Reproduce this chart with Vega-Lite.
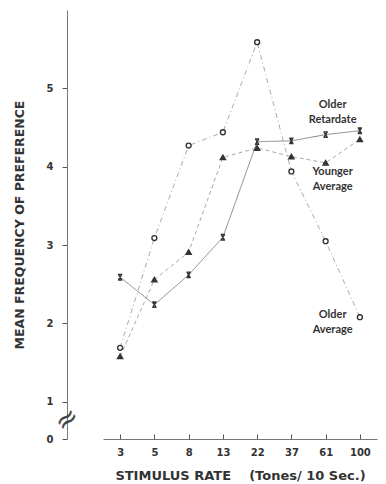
{
  "$schema": "https://vega.github.io/schema/vega-lite/v6.json",
  "width": 319,
  "height": 429,
  "autosize": "none",
  "padding": {"left": 67, "top": 10, "right": 0, "bottom": 45},
  "background": "white",
  "config": {
    "view": {"stroke": null},
    "font": "Lato",
    "axis": {"grid": false, "domainColor": "#777", "tickColor": "#555", "labelColor": "#333", "titleColor": "#333", "labelFont": "DejaVu Sans", "titleFont": "DejaVu Sans", "labelFontWeight": "bold", "titleFontWeight": "bold"}
  },
  "datasets": {
    "main": [
      {"rate": 3, "series": "Older Average", "value": 1.69},
      {"rate": 5, "series": "Older Average", "value": 3.09},
      {"rate": 8, "series": "Older Average", "value": 4.27},
      {"rate": 13, "series": "Older Average", "value": 4.44},
      {"rate": 22, "series": "Older Average", "value": 5.59},
      {"rate": 37, "series": "Older Average", "value": 3.94},
      {"rate": 61, "series": "Older Average", "value": 3.05},
      {"rate": 100, "series": "Older Average", "value": 2.08},
      {"rate": 3, "series": "Younger Average", "value": 1.58},
      {"rate": 5, "series": "Younger Average", "value": 2.56},
      {"rate": 8, "series": "Younger Average", "value": 2.91},
      {"rate": 13, "series": "Younger Average", "value": 4.12},
      {"rate": 22, "series": "Younger Average", "value": 4.24},
      {"rate": 37, "series": "Younger Average", "value": 4.13},
      {"rate": 61, "series": "Younger Average", "value": 4.05},
      {"rate": 100, "series": "Younger Average", "value": 4.35},
      {"rate": 3, "series": "Older Retardate", "value": 2.59},
      {"rate": 5, "series": "Older Retardate", "value": 2.24},
      {"rate": 8, "series": "Older Retardate", "value": 2.62},
      {"rate": 13, "series": "Older Retardate", "value": 3.10},
      {"rate": 22, "series": "Older Retardate", "value": 4.32},
      {"rate": 37, "series": "Older Retardate", "value": 4.33},
      {"rate": 61, "series": "Older Retardate", "value": 4.41},
      {"rate": 100, "series": "Older Retardate", "value": 4.46}
    ],
    "labels": [
      {"rate": 61, "value": 4.86, "label": "Older\nRetardate"},
      {"rate": 61, "value": 4.01, "label": "Younger\nAverage"},
      {"rate": 61, "value": 2.19, "label": "Older\nAverage"}
    ]
  },
  "layer": [
    {
      "data": {"name": "main"},
      "mark": {"type": "line", "strokeWidth": 1},
      "encoding": {
        "x": {"field": "rate", "type": "ordinal", "scale": {"type": "point", "range": [36, 310]},
          "axis": {"title": "STIMULUS RATE\u00a0\u00a0\u00a0\u00a0(Tones/ 10 Sec.)", "labelAngle": 0, "labelFontSize": 10, "titleFontSize": 13, "tickSize": -5, "labelPadding": 13, "titlePadding": 12}},
        "y": {"field": "value", "type": "quantitative", "scale": {"domain": [0.526, 6.0], "nice": false, "zero": false},
          "axis": {"title": "MEAN FREQUENCY OF PREFERENCE", "values": [0.526, 1, 2, 3, 4, 5], "labelExpr": "datum.value < 0.9 ? '0' : format(datum.value, 'd')", "labelFontSize": 10, "titleFontSize": 12.5, "tickSize": 5, "labelPadding": 9, "titlePadding": 20}},
        "color": {"field": "series", "type": "nominal", "legend": null,
          "scale": {"domain": ["Older Average", "Younger Average", "Older Retardate"], "range": ["#aaa", "#aaa", "#888"]}},
        "strokeDash": {"field": "series", "type": "nominal", "legend": null,
          "scale": {"domain": ["Older Average", "Younger Average", "Older Retardate"], "range": [[5, 3, 1, 3], [4, 3], [1, 0]]}}
      }
    },
    {
      "data": {"name": "main"},
      "mark": {"type": "point", "strokeWidth": 1.4, "opacity": 1},
      "encoding": {
        "x": {"field": "rate", "type": "ordinal"},
        "y": {"field": "value", "type": "quantitative"},
        "shape": {"field": "series", "type": "nominal", "legend": null,
          "scale": {"domain": ["Older Average", "Younger Average", "Older Retardate"], "range": ["circle", "triangle-up", "M-0.8,-1H0.8M-0.8,1H0.8M-0.6,-1L0.6,1M0.6,-1L-0.6,1"]}},
        "fill": {"field": "series", "type": "nominal", "legend": null,
          "scale": {"domain": ["Older Average", "Younger Average", "Older Retardate"], "range": ["white", "#333", "#333"]}},
        "size": {"field": "series", "type": "nominal", "legend": null,
          "scale": {"domain": ["Older Average", "Younger Average", "Older Retardate"], "range": [24, 30, 28]}},
        "stroke": {"value": "#333"}
      }
    },
    {
      "data": {"name": "labels"},
      "mark": {"type": "text", "align": "center", "baseline": "top", "dx": 7, "lineBreak": "\n", "lineHeight": 15, "font": "Lato", "fontWeight": "bold", "fontSize": 11, "color": "#333"},
      "encoding": {
        "x": {"field": "rate", "type": "ordinal"},
        "y": {"field": "value", "type": "quantitative"},
        "text": {"field": "label"}
      }
    },
    {
      "data": {"values": [{"mark": "≈"}]},
      "mark": {"type": "text", "align": "center", "baseline": "middle", "font": "DejaVu Sans", "fontSize": 28, "angle": -40, "dx": -42, "dy": -32, "color": "#444"},
      "encoding": {
        "x": {"datum": 3, "type": "ordinal"},
        "y": {"datum": 0.8, "type": "quantitative"},
        "text": {"field": "mark"}
      }
    }
  ]
}
